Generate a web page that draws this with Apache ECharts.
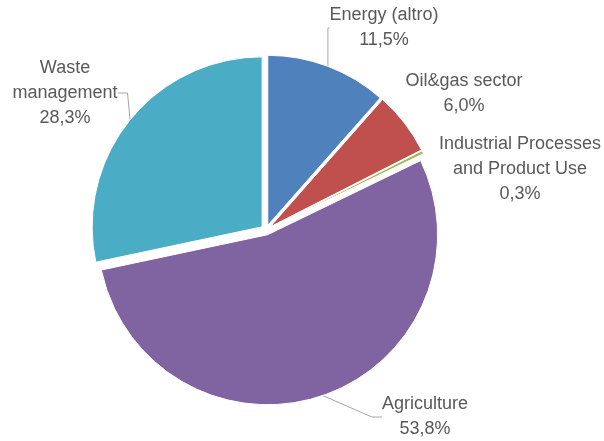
<!DOCTYPE html>
<html>
<head>
<meta charset="utf-8">
<script src="https://cdn.jsdelivr.net/npm/echarts@6/dist/echarts.min.js"></script>
<style>
html,body{margin:0;padding:0;background:#fff;}
#chart{width:604px;height:441px;}
</style>
</head>
<body>
<div id="chart"></div>
<script>
const categories = ['Energy (altro)', 'Oil&gas sector', 'Industrial Processes\nand Product Use', 'Agriculture', 'Waste\nmanagement'];
const shares = [11.5, 6.0, 0.3, 53.8, 28.3];
const colors = ['#4F81BD', '#C0504D', '#9BBB59', '#8064A2', '#4BACC6'];
const showLeader = [true, false, false, true, true];
// label anchor positions (text block centres)
const labelAnchors = [[384, 28], [464, 94], [520, 169], [425, 417], [65, 93]];

const chart = echarts.init(document.getElementById('chart'), null, {renderer: 'canvas'});
const fmt = v => v.toFixed(1).replace('.', ',') + '%';

const common = {
  type: 'pie',
  center: [266, 230],
  startAngle: 90,
  clockwise: true,
  avoidLabelOverlap: false,
  emphasis: {scale: false}
};

chart.setOption({
  animation: false,
  series: [
    Object.assign({}, common, {
      name: 'slices',
      radius: 170,
      selectedMode: 'multiple',
      selectedOffset: 5,
      itemStyle: {borderColor: '#ffffff', borderWidth: 1},
      select: {itemStyle: {borderColor: '#ffffff', borderWidth: 1}},
      label: {show: false},
      labelLine: {show: false},
      data: categories.map((c, i) => ({
        name: c,
        value: shares[i],
        selected: true,
        itemStyle: {color: colors[i]}
      }))
    }),
    Object.assign({}, common, {
      name: 'labels',
      radius: 175,
      silent: true,
      selectedMode: false,
      itemStyle: {color: 'rgba(0,0,0,0)', borderWidth: 0},
      label: {
        show: true,
        position: 'outside',
        fontFamily: 'Liberation Sans, Arial, sans-serif',
        fontSize: 18,
        lineHeight: 25,
        color: '#595959',
        formatter: p => p.name + '\n' + fmt(p.value)
      },
      labelLine: {
        show: true,
        length: 10,
        length2: 10,
        lineStyle: {color: '#A6A6A6', width: 1}
      },
      labelLayout: function (params) {
        const a = labelAnchors[params.dataIndex];
        return {x: a[0], y: a[1], align: 'center', verticalAlign: 'middle'};
      },
      data: categories.map((c, i) => ({
        name: c,
        value: shares[i],
        labelLine: {show: showLeader[i]}
      }))
    })
  ]
});
</script>
</body>
</html>
